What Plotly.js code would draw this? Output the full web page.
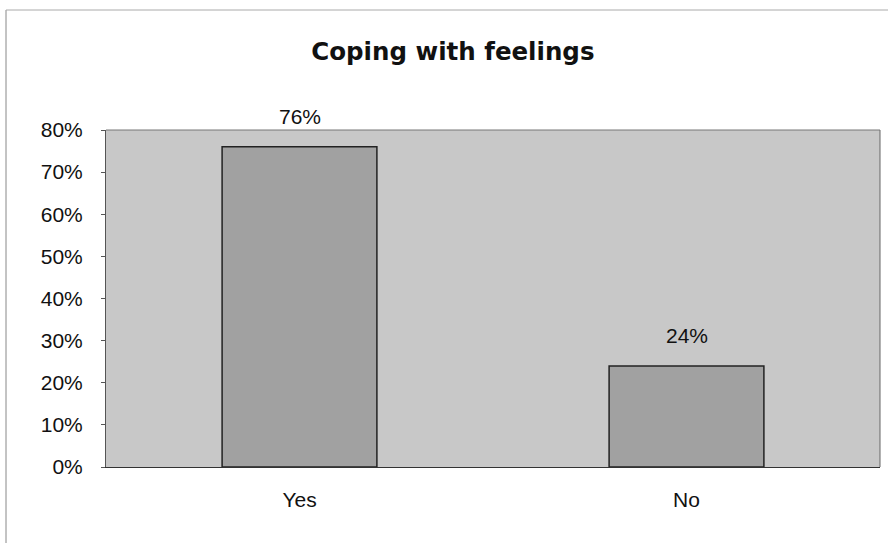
<!DOCTYPE html>
<html>
<head>
<meta charset="utf-8">
<script src="https://cdn.plot.ly/plotly-3.0.1.min.js"></script>
<style>html,body{margin:0;padding:0;background:#fff;}#chart{width:888px;height:543px;}</style>
</head>
<body>
<div id="chart"></div>
<script>
var categories = ["Yes", "No"];
var values = [0.76, 0.24];
var labels = ["76%", "24%"];
var yTickVals = [0, 0.1, 0.2, 0.3, 0.4, 0.5, 0.6, 0.7, 0.8];

var FONT = "Liberation Sans, Arial, sans-serif";

var trace = {
  type: "bar",
  x: categories,
  y: values,
  marker: {color: "#a1a1a1", line: {color: "#222", width: 1.5}},
  hoverinfo: "none"
};

var annotations = categories.map(function (c, i) {
  return {
    x: c, y: values[i], xref: "x", yref: "y",
    text: labels[i], showarrow: false,
    yanchor: "middle", yshift: 30,
    font: {family: FONT, size: 21, color: "#111"}
  };
});

var topY = (467 - 10) / 337;
var leftX = (6 - 106) / 774;

var layout = {
  width: 888, height: 543,
  margin: {l: 106, r: 8, t: 130, b: 76},
  paper_bgcolor: "#ffffff",
  plot_bgcolor: "#c8c8c8",
  bargap: 0.6,
  showlegend: false,
  title: {text: "<b>Coping with feelings</b>", x: 0.51, xanchor: "center", y: 0.906, yanchor: "middle",
          font: {family: "DejaVu Sans, sans-serif", size: 24.5, color: "#111"}},
  xaxis: {
    showgrid: false, zeroline: false,
    showline: true, linecolor: "#333", linewidth: 1,
    ticks: "", tickfont: {family: FONT, size: 21, color: "#111"},
    ticklabelstandoff: 14
  },
  yaxis: {
    range: [0, 0.8], tickvals: yTickVals, tickformat: ".0%",
    showgrid: false, zeroline: false,
    showline: true, linecolor: "#555", linewidth: 1,
    ticks: "outside", ticklen: 4, tickcolor: "#555",
    ticklabelstandoff: 14,
    tickfont: {family: FONT, size: 21, color: "#111"}
  },
  annotations: annotations,
  shapes: [
    {type: "line", xref: "paper", yref: "paper", x0: leftX, x1: leftX, y0: -0.3, y1: topY, line: {color: "#888", width: 1}},
    {type: "line", xref: "paper", yref: "paper", x0: leftX, x1: (888 - 106) / 774, y0: topY, y1: topY, line: {color: "#aaa", width: 1}},
    {type: "line", xref: "paper", yref: "paper", x0: 1, x1: 1, y0: 0, y1: 1, line: {color: "#666", width: 1}},
    {type: "line", xref: "paper", yref: "paper", x0: 0, x1: 1, y0: 1, y1: 1, line: {color: "#777", width: 1}}
  ]
};

Plotly.newPlot("chart", [trace], layout, {displayModeBar: false, staticPlot: true});
</script>
</body>
</html>
